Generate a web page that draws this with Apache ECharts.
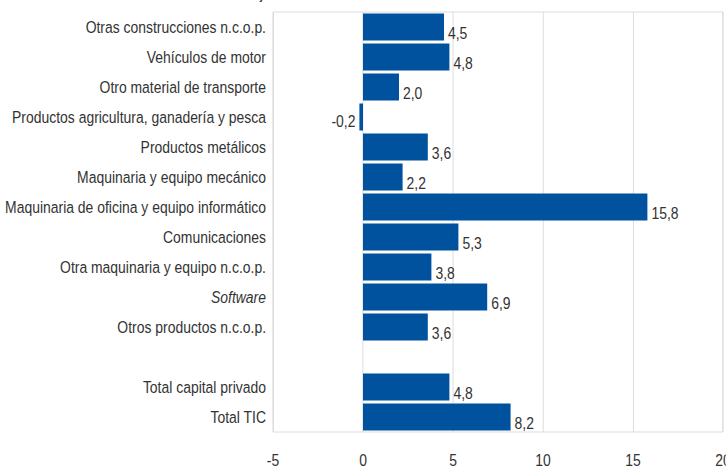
<!DOCTYPE html>
<html>
<head>
<meta charset="utf-8">
<script src="https://cdn.jsdelivr.net/npm/echarts@6/dist/echarts.min.js"></script>
<style>
  html, body { margin: 0; padding: 0; background: #ffffff; overflow: hidden; }
  #wrap { width: 726px; height: 469px; overflow: hidden; position: relative; }
  /* The chart is laid out wider and squeezed horizontally, giving the narrow lettering */
  #chart { height: 469px; transform-origin: 0 0; }
</style>
</head>
<body>
<div id="wrap"><div id="chart"></div></div>
<script>
// Categories top to bottom; the empty entry leaves a blank row before the totals
const categories = [
  'Otras construcciones n.c.o.p.',
  'Vehículos de motor',
  'Otro material de transporte',
  'Productos agricultura, ganadería y pesca',
  'Productos metálicos',
  'Maquinaria y equipo mecánico',
  'Maquinaria de oficina y equipo informático',
  'Comunicaciones',
  'Otra maquinaria y equipo n.c.o.p.',
  'Software',
  'Otros productos n.c.o.p.',
  '',
  'Total capital privado',
  'Total TIC'
];
const values = [4.5, 4.8, 2.0, -0.2, 3.6, 2.2, 15.8, 5.3, 3.8, 6.9, 3.6, null, 4.8, 8.2];
const xTicks = [-5, 0, 5, 10, 15, 20];
const italicCategories = ['Software'];

const SQUEEZE = 0.82;            // horizontal compression of the whole drawing
const W = 726, H = 469;
const innerW = W / SQUEEZE;

const el = document.getElementById('chart');
el.style.width = innerW + 'px';
el.style.transform = 'scaleX(' + SQUEEZE + ')';

const FONT = '"Liberation Sans", Arial, sans-serif';
const BLUE = '#00529f';
const TEXT = '#333333';
const GRID = '#d9d9d9';
const px = v => v / SQUEEZE;     // on-screen horizontal pixels -> layout pixels

const chart = echarts.init(el, null, { renderer: 'svg', width: innerW, height: H });

const fmt = v => v.toFixed(1).replace('.', ',');

const gridTop = 12, gridBottom = 37;

// Negative values carry their label on the left of the bar
const barData = values.map(v => {
  if (v == null) return null;
  if (v < 0) {
    return { value: v, label: { position: 'left', offset: [0, 4] } };
  }
  return v;
});

chart.setOption({
  animation: false,
  title: {
    text: 'Tasa de variación anual. Porcentaje.',
    left: px(46),
    top: -21,
    textStyle: { fontFamily: FONT, fontSize: 17, fontWeight: 'normal', color: TEXT }
  },
  grid: {
    left: px(273), right: px(3), top: gridTop, bottom: gridBottom,
    containLabel: false, outerBoundsMode: 'none'
  },
  xAxis: {
    type: 'value',
    min: xTicks[0],
    max: xTicks[xTicks.length - 1],
    interval: 5,
    position: 'bottom',
    axisLine: { show: false },
    axisTick: { show: false },
    splitLine: { show: true, lineStyle: { color: GRID, width: 1 } },
    axisLabel: {
      margin: 19,
      fontFamily: FONT,
      fontSize: 17,
      color: TEXT,
      formatter: v => String(v)
    }
  },
  yAxis: {
    type: 'category',
    data: categories,
    inverse: true,
    axisLine: { show: false },
    axisTick: { show: false },
    splitLine: { show: false },
    axisLabel: {
      margin: px(7),
      fontFamily: FONT,
      fontSize: 17,
      color: TEXT,
      formatter: v => italicCategories.includes(v) ? '{it|' + v + '}' : v,
      rich: {
        it: { fontFamily: FONT, fontSize: 17, fontStyle: 'italic', color: TEXT }
      }
    }
  },
  series: [
    {
      type: 'bar',
      data: barData,
      barWidth: 27,
      itemStyle: { color: BLUE },
      label: {
        show: true,
        position: 'right',
        distance: px(4),
        offset: [0, 6],
        fontFamily: FONT,
        fontSize: 17,
        color: TEXT,
        formatter: p => p.value == null ? '' : fmt(p.value)
      }
    }
  ]
});

// Frame around the plotting area, placed from the axis scales
const x0 = chart.convertToPixel({ xAxisIndex: 0 }, xTicks[0]);
const x1 = chart.convertToPixel({ xAxisIndex: 0 }, xTicks[xTicks.length - 1]);
chart.setOption({
  graphic: [{
    type: 'rect',
    shape: { x: x0, y: gridTop, width: x1 - x0, height: H - gridBottom - gridTop },
    style: { fill: null, stroke: GRID, lineWidth: 1 },
    silent: true,
    z: 0
  }]
});
</script>
</body>
</html>
